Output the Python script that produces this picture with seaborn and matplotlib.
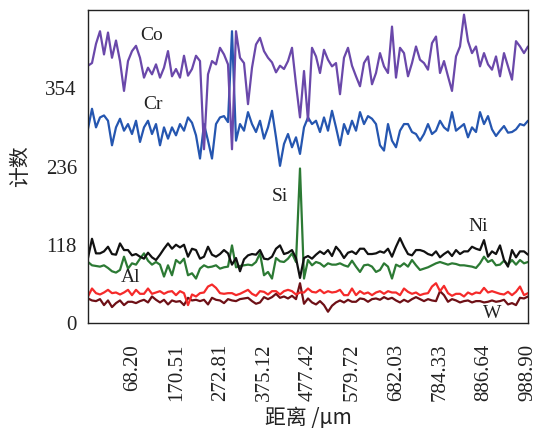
import numpy as np
import pandas as pd
import matplotlib
matplotlib.use("Agg")
import matplotlib.pyplot as plt
import seaborn as sns

# ---- data (counts, one value per sample point) ----
X_START, X_END, N_POINTS = -36.7, 988.9, 111
distance = np.linspace(X_START, X_END, N_POINTS)

co = [388, 392, 421, 440, 405, 438, 400, 426, 395, 350,
      395, 410, 418, 400, 370, 385, 375, 390, 370, 385,
      410, 372, 383, 370, 403, 373, 383, 403, 395, 262,
      375, 395, 390, 415, 405, 390, 262, 440, 400, 392,
      330, 385, 420, 430, 410, 400, 393, 378, 388, 383,
      395, 415, 360, 310, 380, 305, 415, 402, 377, 412,
      397, 387, 392, 345, 400, 415, 388, 372, 357, 392,
      402, 360, 377, 407, 387, 377, 447, 370, 415, 407,
      372, 392, 417, 397, 392, 382, 422, 432, 377, 395,
      372, 350, 402, 417, 465, 425, 407, 417, 387, 407,
      390, 382, 402, 372, 407, 387, 367, 425, 417, 407, 417]

cr = [293, 323, 295, 310, 313, 305, 268, 295, 308, 290,
      300, 285, 305, 273, 295, 305, 285, 300, 268, 295,
      278, 295, 283, 300, 290, 310, 302, 283, 248, 300,
      275, 248, 300, 310, 312, 303, 440, 275, 300, 290,
      318, 300, 288, 305, 278, 295, 320, 280, 237, 270,
      285, 265, 280, 255, 295, 310, 300, 305, 288, 310,
      290, 320, 295, 268, 300, 285, 305, 290, 318, 300,
      312, 308, 300, 268, 260, 300, 275, 265, 290, 300,
      300, 288, 285, 275, 285, 300, 285, 290, 305, 295,
      290, 318, 290, 295, 300, 280, 295, 288, 318, 300,
      312, 292, 282, 290, 297, 287, 288, 292, 300, 298, 305]

ni = [98, 127, 105, 105, 108, 115, 104, 103, 120, 110,
      110, 102, 104, 100, 97, 106, 99, 95, 103, 112,
      120, 112, 118, 114, 118, 100, 112, 110, 97, 100,
      115, 103, 100, 104, 110, 105, 88, 98, 78, 96,
      102, 104, 103, 110, 97, 96, 100, 112, 117, 104,
      106, 110, 98, 68, 98, 101, 97, 103, 108, 104,
      110, 101, 115, 108, 98, 106, 108, 104, 112, 112,
      104, 104, 105, 108, 106, 112, 100, 115, 128, 115,
      104, 102, 110, 110, 108, 104, 102, 108, 99, 104,
      108, 101, 110, 104, 108, 108, 115, 112, 110, 125,
      100, 108, 104, 117, 95, 85, 110, 99, 108, 108, 103]

al_si = [92, 87, 86, 85, 87, 83, 78, 76, 80, 100,
         82, 90, 88, 97, 105, 94, 88, 92, 88, 70,
         87, 72, 95, 90, 97, 72, 75, 67, 82, 87,
         84, 85, 87, 82, 84, 85, 117, 84, 86, 87,
         88, 87, 92, 105, 72, 77, 67, 98, 93, 92,
         97, 105, 92, 233, 67, 95, 87, 92, 90, 85,
         90, 88, 88, 90, 87, 85, 94, 85, 77, 87,
         88, 85, 77, 80, 90, 85, 67, 88, 85, 90,
         85, 95, 87, 80, 82, 84, 87, 90, 92, 90,
         88, 90, 89, 87, 87, 86, 85, 83, 90, 100,
         92, 95, 87, 88, 94, 88, 95, 88, 95, 90, 92]

red = [40, 52, 45, 43, 46, 50, 45, 46, 43, 46,
       50, 42, 50, 44, 44, 52, 44, 46, 48, 44,
       47, 48, 42, 48, 45, 27, 43, 40, 45, 46,
       55, 58, 53, 45, 44, 45, 45, 42, 44, 47,
       50, 44, 41, 48, 47, 43, 48, 48, 43, 48,
       50, 48, 43, 46, 46, 52, 47, 46, 50, 45,
       48, 46, 47, 50, 42, 42, 52, 42, 48, 44,
       46, 42, 46, 48, 44, 48, 46, 46, 42, 52,
       47, 44, 46, 42, 44, 45, 55, 60, 48, 56,
       45, 41, 44, 44, 40, 46, 43, 46, 45, 53,
       46, 48, 46, 44, 43, 47, 42, 47, 55, 42, 45]

w = [37, 34, 33, 36, 27, 34, 24, 30, 34, 27,
     32, 32, 30, 33, 35, 31, 40, 35, 31, 35,
     28, 34, 32, 33, 27, 38, 34, 35, 33, 35,
     28, 38, 35, 34, 30, 36, 34, 33, 36, 37,
     38, 33, 29, 31, 39, 36, 39, 44, 38, 40,
     37, 41, 36, 60, 29, 37, 31, 28, 33, 27,
     17, 26, 31, 34, 31, 35, 32, 32, 37, 36,
     32, 36, 37, 35, 39, 36, 38, 34, 31, 35,
     32, 36, 39, 36, 33, 36, 34, 33, 48, 42,
     32, 36, 34, 31, 33, 34, 31, 33, 33, 31,
     32, 34, 32, 33, 35, 28, 30, 27, 38, 37, 40]

x_ticks = [68.20, 170.51, 272.81, 375.12, 477.42, 579.72, 682.03, 784.33, 886.64, 988.90]
y_ticks = [0, 118, 236, 354]

series = {"W": w, "Red": red, "Al/Si": al_si, "Ni": ni, "Cr": cr, "Co": co}
colors = {"W": "#6e1016", "Red": "#f52a2a", "Al/Si": "#2c7a34",
          "Ni": "#111111", "Cr": "#2556b0", "Co": "#6a48aa"}

frames = []
for name, vals in series.items():
    frames.append(pd.DataFrame({"distance": distance[:len(vals)], "count": vals, "element": name}))
df = pd.concat(frames, ignore_index=True)

sns.set_style("white")
plt.rcParams["font.family"] = ["Liberation Serif", "DejaVu Serif"]

fig = plt.figure(figsize=(5.43, 4.33), dpi=100)
ax = fig.add_axes([88 / 543, 1 - 323 / 433, 440 / 543, 313 / 433])

sns.lineplot(data=df, x="distance", y="count", hue="element", palette=colors,
             hue_order=list(series.keys()), estimator=None, sort=False,
             linewidth=1.6, legend=False, ax=ax)

ax.set_xlim(X_START, X_END)
ax.set_ylim(0, 472)
ax.set_xticks(x_ticks)
ax.set_xticklabels([f"{t:.2f}" for t in x_ticks], rotation=90, fontsize=15)
ax.set_yticks(y_ticks)
ax.set_yticklabels([str(t) for t in y_ticks], fontsize=15)
ax.tick_params(axis="x", direction="out", length=5, width=1, pad=10, colors="#222222")
ax.tick_params(axis="y", direction="in", length=10, width=1, pad=8, colors="#222222")

for sp in ax.spines.values():
    sp.set_visible(True)
    sp.set_color("#222222")
    sp.set_linewidth(1.0)

cjk = ["Noto Sans CJK SC", "DejaVu Sans"]
ax.set_xlabel("距离 /μm", fontsize=15, family=cjk, color="#222222", labelpad=4)
ax.set_ylabel("计数", fontsize=15, family=cjk, color="#222222", labelpad=10)

lab = dict(fontsize=14, color="#222222", ha="center", va="center")
ax.text(112, 433, "Co", **lab)
ax.text(115, 329, "Cr", **lab)
ax.text(411, 191, "Si", **lab)
ax.text(872, 146, "Ni", **lab)
ax.text(63, 68, "Al", **lab)
ax.text(905, 14, "W", **lab)

fig.savefig("out.png", dpi=100)
